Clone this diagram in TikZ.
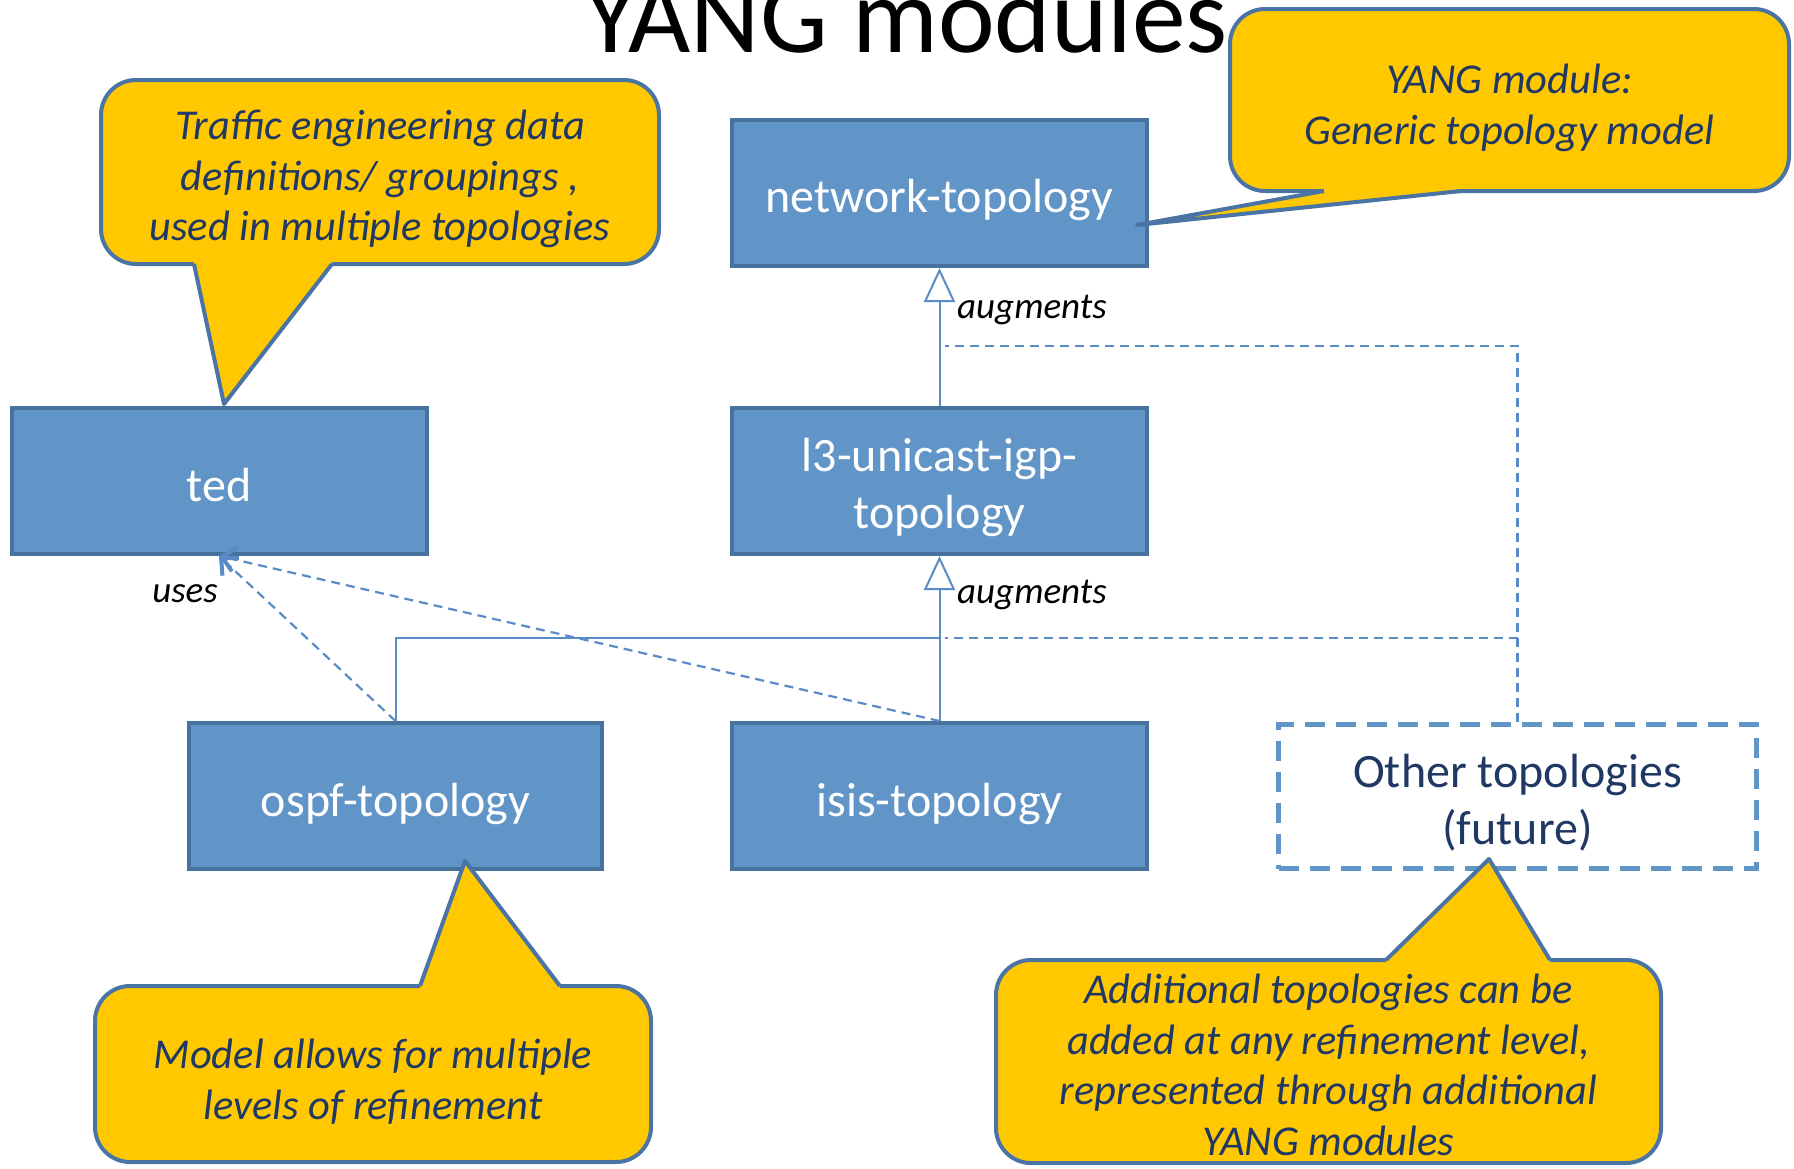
\documentclass[tikz,border=0pt]{standalone}
\usepackage{fontspec}
\setmainfont{Carlito}
\usetikzlibrary{arrows.meta}
\definecolor{boxfill}{HTML}{6194C7}
\definecolor{boxline}{HTML}{48729E}
\definecolor{calfill}{HTML}{FFC800}
\definecolor{calline}{HTML}{4A74A3}
\definecolor{caltext}{HTML}{203864}
\definecolor{connline}{HTML}{5A8BC6}
\definecolor{dashbox}{HTML}{6194C7}
\newcommand{\shifttext}[2]{\raisebox{#1}[\height][\depth]{\begin{tabular}{@{}c@{}}#2\end{tabular}}}
\begin{document}
\begin{tikzpicture}[x=1pt,y=-1pt,
  modbox/.style={draw=boxline, line width=4pt, fill=boxfill, text=white,
    minimum width=415pt, minimum height=146pt, inner sep=0pt,
    font=\fontsize{48}{57}\selectfont},
  otherbox/.style={draw=dashbox, line width=5pt, dash pattern=on 20pt off 11pt,
    text=caltext, minimum width=478pt, minimum height=144pt, inner sep=0pt,
    font=\fontsize{48}{57}\selectfont},
  calbox/.style={draw=calline, line width=4pt, fill=calfill, rounded corners=35pt,
    text=caltext, inner sep=0pt, font=\fontsize{42.5}{50.5}\selectfont\itshape},
  tailfill/.style={fill=calfill},
  tailline/.style={draw=calline, line width=4pt, line join=round},
  conn/.style={draw=connline, line width=2pt},
  dconn/.style={draw=connline, line width=2.2pt, dash pattern=on 9pt off 6pt},
  gen/.style={-{Triangle[open,length=34pt,width=31pt]}},
  usetip/.style={-{Straight Barb[length=13pt,width=24pt,line width=4pt]}},
  lbl/.style={text=black, font=\fontsize{37}{43}\selectfont\itshape, inner sep=0pt}
]
\useasboundingbox (0,0) rectangle (1794,1168);

% title
\node[anchor=base, inner sep=0pt, font=\fontsize{107.5}{122}\selectfont] (title) at (906,52) {YANG modules};

% module boxes
\node[modbox] (ted) at (219,481) {\shifttext{-9pt}{ted}};
\node[modbox] (net) at (939.5,193) {\shifttext{-8pt}{network-topology}};
\node[modbox] (l3) at (939.5,481) {\shifttext{-8pt}{l3-unicast-igp-\\topology}};
\node[modbox, minimum width=413pt] (ospf) at (395.5,796) {\shifttext{-9pt}{ospf-topology}};
\node[modbox] (isis) at (939.5,796) {\shifttext{-9pt}{isis-topology}};
\node[otherbox] (other) at (1517.5,796.5) {\shifttext{-8pt}{Other topologies\\(future)}};

% joints
\coordinate (j1) at (939.5,638);
\coordinate (d1) at (945,346);
\coordinate (d2) at (945,638);

% connectors
\draw[conn, gen] (l3.north) -- (net.south);
\draw[conn, gen] (isis.north) -- (l3.south);
\draw[conn] (ospf.north) |- (j1);
\draw[dconn] (other.north) |- (d1);
\draw[dconn] (other.north |- d2) -- (d2);
\draw[dconn, usetip] (ospf.north) -- (ted.south);
\draw[dconn, usetip] (isis.north) -- (ted.south);

% labels
\node[lbl, anchor=west] (aug1) at (957,309.5) {augments};
\node[lbl, anchor=west] (aug2) at (957,594.5) {augments};
\node[lbl] (uses) at (185,593.5) {uses};

% callout A
\node[calbox, minimum width=558pt, minimum height=184pt] (cA) at (380,172)
  {\shifttext{-8pt}{Traffic engineering data\\definitions/ groupings ,\\used in multiple topologies}};
\coordinate (tA1) at (194,264);
\coordinate (tA2) at (332,264);
\coordinate (tAt) at (224,404);
\fill[tailfill] (194,257) -- (tA1) -- (tAt) -- (tA2) -- (332,257) -- cycle;
\draw[tailline] (tA1) -- (tAt) -- (tA2);

% callout B
\node[calbox, minimum width=559pt, minimum height=182pt] (cB) at (1509.5,100)
  {\shifttext{-9pt}{YANG module:\\Generic topology model}};
\coordinate (tB1) at (1324,191);
\coordinate (tB2) at (1461,191);
\coordinate (tBt) at (1137,225);
\fill[tailfill] (1324,184) -- (tB1) -- (tBt) -- (tB2) -- (1461,184) -- cycle;
\draw[tailline] (tB1) -- (tBt) -- (tB2);

% callout C
\node[calbox, minimum width=556pt, minimum height=176pt] (cC) at (373,1074)
  {\shifttext{-10pt}{Model allows for multiple\\levels of refinement}};
\coordinate (tC1) at (420,986);
\coordinate (tC2) at (560,986);
\coordinate (tCt) at (465,861);
\fill[tailfill] (420,993) -- (tC1) -- (tCt) -- (tC2) -- (560,993) -- cycle;
\draw[tailline] (tC1) -- (tCt) -- (tC2);

% callout D
\node[calbox, minimum width=665pt, minimum height=203pt] (cD) at (1328.5,1061.5)
  {\shifttext{-8pt}{Additional topologies can be\\added at any refinement level,\\represented through additional\\YANG modules}};
\coordinate (tD1) at (1386,960);
\coordinate (tD2) at (1550,960);
\coordinate (tDt) at (1489,859);
\fill[tailfill] (1386,967) -- (tD1) -- (tDt) -- (tD2) -- (1550,967) -- cycle;
\draw[tailline] (tD1) -- (tDt) -- (tD2);
\end{tikzpicture}
\end{document}
